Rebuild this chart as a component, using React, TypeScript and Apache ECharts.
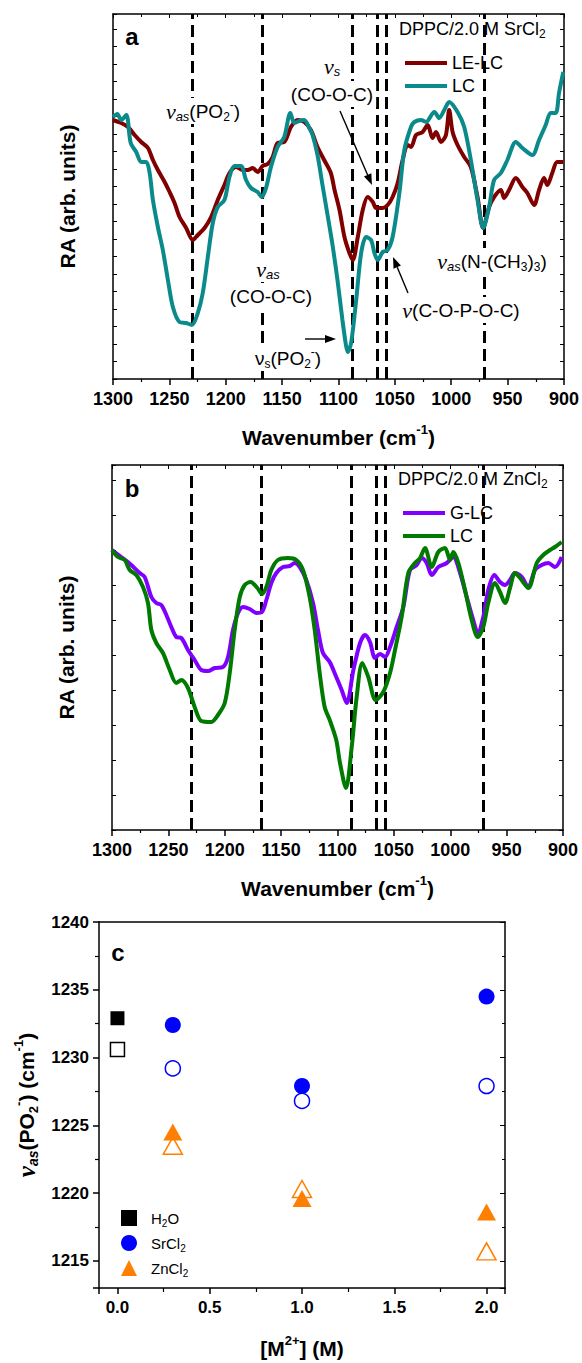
import React, { useEffect, useRef } from 'react';
import * as echarts from 'echarts';

const SANS = "'Liberation Sans', Arial, sans-serif";
const SERIF = "'Liberation Serif', 'Times New Roman', serif";

// ---------- data ----------
const WN_MIN = 900;
const WN_MAX = 1300;
const BAND_POSITIONS = [1230, 1168, 1088, 1066, 1058, 971];

// Panel a: DPPC / 2.0 M SrCl2  [wavenumber, RA (arb.)]
const SR_LELC: [number, number][] = [
  [1300.0, 2.59], [1292.7, 2.56], [1286.7, 2.52], [1280.8, 2.44], [1275.0, 2.37], [1269.0, 2.31],
  [1264.6, 2.19], [1260.2, 2.09], [1254.2, 1.97], [1249.8, 1.87], [1245.4, 1.76], [1241.0, 1.62],
  [1235.1, 1.51], [1229.2, 1.39], [1224.8, 1.44], [1218.8, 1.51], [1213.0, 1.62], [1207.1, 1.79],
  [1201.2, 1.94], [1196.7, 2.06], [1190.9, 2.12], [1185.0, 2.09], [1180.5, 2.09], [1176.1, 2.11],
  [1171.7, 2.07], [1167.3, 2.13], [1162.8, 2.15], [1158.4, 2.22], [1154.0, 2.36], [1148.1, 2.37],
  [1142.2, 2.52], [1136.3, 2.59], [1130.4, 2.57], [1124.5, 2.49], [1118.6, 2.32], [1112.7, 2.19],
  [1106.8, 2.06], [1103.5, 1.89], [1099.1, 1.69], [1094.7, 1.42], [1090.3, 1.26], [1087.3, 1.19],
  [1082.9, 1.42], [1078.5, 1.69], [1074.1, 1.82], [1069.6, 1.77], [1066.6, 1.71], [1060.8, 1.71],
  [1056.4, 1.74], [1052.0, 1.82], [1047.5, 1.96], [1043.1, 2.19], [1038.7, 2.34], [1035.7, 2.32],
  [1031.2, 2.44], [1025.4, 2.47], [1020.9, 2.54], [1016.6, 2.41], [1013.5, 2.47], [1009.1, 2.37],
  [1004.7, 2.44], [1001.8, 2.69], [998.8, 2.47], [994.4, 2.34], [988.5, 2.22], [982.6, 2.12],
  [976.7, 1.82], [971.7, 1.51], [966.4, 1.72], [962.0, 1.82], [956.0, 1.89], [953.1, 1.81],
  [948.7, 1.89], [942.7, 2.01], [936.9, 1.92], [932.5, 1.86], [926.5, 1.74], [922.1, 1.89],
  [917.7, 2.01], [914.8, 1.94], [910.4, 2.06], [906.0, 2.17], [900.6, 2.17],
];

const SR_LC: [number, number][] = [
  [1300.0, 2.62], [1296.2, 2.65], [1292.7, 2.59], [1288.2, 2.64], [1284.3, 2.36], [1279.4, 2.27],
  [1275.0, 2.17], [1270.5, 2.17], [1267.5, 2.06], [1264.6, 1.79], [1260.2, 1.52], [1255.8, 1.29],
  [1251.3, 0.99], [1246.9, 0.72], [1241.0, 0.57], [1235.1, 0.56], [1230.1, 0.54], [1224.8, 0.66],
  [1220.4, 0.86], [1215.9, 1.22], [1211.5, 1.56], [1207.1, 1.72], [1201.2, 1.79], [1196.7, 2.02],
  [1192.3, 2.13], [1186.5, 2.13], [1182.0, 1.99], [1177.6, 1.91], [1171.7, 1.87], [1168.1, 1.82],
  [1164.3, 1.91], [1159.9, 2.12], [1154.0, 2.32], [1148.1, 2.42], [1142.7, 2.66], [1139.2, 2.56],
  [1134.8, 2.58], [1130.4, 2.59], [1125.9, 2.51], [1123.0, 2.44], [1118.6, 2.24], [1114.2, 1.94],
  [1109.7, 1.64], [1105.3, 1.34], [1100.9, 0.99], [1096.5, 0.59], [1093.4, 0.34], [1091.8, 0.27],
  [1088.8, 0.36], [1084.3, 0.79], [1079.9, 1.26], [1075.5, 1.42], [1071.1, 1.39], [1068.1, 1.26],
  [1065.2, 1.19], [1060.8, 1.27], [1056.4, 1.29], [1052.0, 1.42], [1046.0, 1.86], [1041.6, 2.29],
  [1035.7, 2.52], [1032.7, 2.57], [1026.8, 2.59], [1022.4, 2.57], [1015.0, 2.67], [1010.6, 2.61],
  [1006.2, 2.69], [1001.8, 2.77], [994.4, 2.67], [988.5, 2.52], [982.6, 2.19], [976.7, 1.79],
  [971.7, 1.51], [966.4, 1.72], [962.0, 1.99], [956.0, 2.06], [950.2, 2.19], [942.7, 2.37],
  [936.9, 2.31], [928.0, 2.24], [922.1, 2.39], [916.2, 2.54], [911.8, 2.66], [907.3, 2.66],
  [904.4, 2.86], [900.6, 3.07],
];

// Panel b: DPPC / 2.0 M ZnCl2
const ZN_GLC: [number, number][] = [
  [1300.0, 2.80], [1291.8, 2.73], [1282.9, 2.65], [1275.4, 2.57], [1271.0, 2.53], [1265.1, 2.33],
  [1260.7, 2.27], [1256.3, 2.25], [1251.8, 2.15], [1247.4, 2.03], [1243.0, 1.93], [1238.5, 1.92],
  [1232.6, 1.80], [1226.7, 1.70], [1220.8, 1.60], [1214.9, 1.59], [1208.9, 1.62], [1201.6, 1.63],
  [1197.1, 1.73], [1192.7, 2.00], [1188.2, 2.17], [1183.8, 2.23], [1177.9, 2.21], [1172.0, 2.17],
  [1167.0, 2.18], [1163.1, 2.30], [1158.7, 2.47], [1154.3, 2.57], [1148.3, 2.63], [1142.4, 2.64],
  [1138.0, 2.67], [1133.5, 2.63], [1127.7, 2.50], [1121.7, 2.27], [1117.3, 2.00], [1112.9, 1.77],
  [1106.9, 1.68], [1101.1, 1.53], [1096.3, 1.40], [1091.8, 1.27], [1085.9, 1.60], [1080.0, 1.87],
  [1075.6, 1.95], [1071.2, 1.88], [1066.7, 1.72], [1062.3, 1.76], [1057.9, 1.73], [1053.4, 1.83],
  [1047.5, 2.03], [1041.6, 2.23], [1035.7, 2.60], [1029.8, 2.65], [1025.3, 2.72], [1020.9, 2.67],
  [1016.4, 2.55], [1010.6, 2.63], [1003.1, 2.67], [997.3, 2.73], [991.3, 2.57], [985.4, 2.33],
  [979.6, 2.10], [975.6, 1.97], [970.7, 2.13], [966.3, 2.40], [960.9, 2.55], [955.9, 2.48],
  [951.4, 2.45], [947.0, 2.50], [942.6, 2.57], [936.6, 2.53], [930.8, 2.43], [924.8, 2.60],
  [918.9, 2.65], [913.0, 2.67], [907.1, 2.63], [901.2, 2.73],
];

const ZN_LC: [number, number][] = [
  [1300.0, 2.80], [1294.7, 2.73], [1288.7, 2.70], [1284.3, 2.60], [1278.4, 2.55], [1272.5, 2.43],
  [1268.1, 2.27], [1265.1, 2.00], [1260.7, 1.87], [1254.8, 1.77], [1248.8, 1.60], [1243.0, 1.47],
  [1238.5, 1.50], [1232.6, 1.42], [1226.7, 1.23], [1220.8, 1.09], [1211.9, 1.08], [1206.0, 1.15],
  [1200.0, 1.27], [1195.6, 1.57], [1191.2, 2.00], [1186.7, 2.33], [1182.3, 2.45], [1177.0, 2.48],
  [1171.1, 2.42], [1167.0, 2.36], [1163.1, 2.43], [1158.7, 2.60], [1152.8, 2.70], [1143.9, 2.72],
  [1136.5, 2.70], [1130.6, 2.60], [1124.7, 2.33], [1120.2, 2.00], [1115.8, 1.57], [1111.4, 1.23],
  [1106.9, 1.10], [1101.1, 0.90], [1097.8, 0.67], [1092.5, 0.42], [1087.4, 0.83], [1083.0, 1.33],
  [1078.0, 1.67], [1072.7, 1.53], [1066.1, 1.30], [1059.4, 1.38], [1053.4, 1.57], [1049.0, 1.80],
  [1043.1, 2.13], [1037.2, 2.57], [1031.3, 2.67], [1026.8, 2.72], [1022.4, 2.82], [1016.4, 2.63],
  [1010.6, 2.78], [1004.7, 2.82], [1000.2, 2.70], [997.3, 2.78], [992.8, 2.67], [986.9, 2.40],
  [981.0, 2.10], [975.6, 1.93], [970.7, 2.03], [966.3, 2.27], [960.3, 2.47], [955.9, 2.38],
  [951.4, 2.27], [947.0, 2.42], [942.6, 2.57], [938.1, 2.52], [930.8, 2.42], [923.3, 2.67],
  [917.5, 2.75], [911.5, 2.80], [907.1, 2.83], [901.2, 2.88],
];

// Panel c: nu_as(PO2-) vs [M2+]
const H2O_CONC = [0];
const H2O_FILLED = [1232.9];
const H2O_OPEN = [1230.6];
const SALT_CONC = [0.3, 1.0, 2.0];
const SR_FILLED = [1232.4, 1227.9, 1234.5];
const SR_OPEN = [1229.2, 1226.8, 1227.9];
const ZN_FILLED = [1224.5, 1219.6, 1218.6];
const ZN_OPEN = [1223.5, 1220.3, 1215.7];

// ---------- styles ----------
const C_LELC = '#800000';
const C_LC_SR = '#0a8a8a';
const C_GLC = '#8000ff';
const C_LC_ZN = '#007a00';
const C_SR = '#0000ff';
const C_ZN = '#ff7f00';

const axisLineStyle = { color: '#000', width: 1.5 };

const titleRich = {
  t: { fontSize: 21, fontWeight: 'bold', fontFamily: SANS, color: '#000', lineHeight: 28 },
  sup: { fontSize: 13, fontWeight: 'bold', fontFamily: SANS, color: '#000', verticalAlign: 'top' },
  sub: { fontSize: 13, fontWeight: 'bold', fontFamily: SANS, color: '#000', verticalAlign: 'bottom' },
  nu: { fontSize: 25, fontWeight: 'bold', fontStyle: 'italic', fontFamily: SERIF, color: '#000', lineHeight: 28 },
  subi: { fontSize: 14, fontWeight: 'bold', fontStyle: 'italic', fontFamily: SANS, color: '#000', verticalAlign: 'bottom' },
};

const annRich = {
  t: { fontSize: 19, fontFamily: SANS, fill: '#000', lineHeight: 24 },
  nu: { fontSize: 22, fontFamily: SERIF, fontStyle: 'italic', fill: '#000', lineHeight: 24 },
  subi: { fontSize: 13, fontFamily: SANS, fontStyle: 'italic', fill: '#000', verticalAlign: 'bottom' },
  sub: { fontSize: 12, fontFamily: SANS, fill: '#000', verticalAlign: 'bottom' },
  sup: { fontSize: 12, fontFamily: SANS, fill: '#000', verticalAlign: 'top' },
};

const plainNumber = (v: number) => String(v);

function spectrumXAxes(gridIndex: number) {
  return [
    {
      type: 'value', gridIndex, position: 'bottom', min: WN_MIN, max: WN_MAX, interval: 50, inverse: true,
      axisLine: { show: true, onZero: false, lineStyle: axisLineStyle },
      axisTick: { show: true, length: 6, lineStyle: axisLineStyle },
      minorTick: { show: true, splitNumber: 2, length: 3, lineStyle: { color: '#000', width: 1.2 } },
      axisLabel: {
        fontSize: 18, fontWeight: 'bold', fontFamily: SANS, color: '#000', margin: 11,
        formatter: plainNumber,
      },
      splitLine: { show: false },
      name: '{t|Wavenumber (cm}{sup|-1}{t|)}',
      nameLocation: 'middle', nameGap: 44,
      nameTextStyle: { rich: titleRich },
    },
    {
      type: 'value', gridIndex, position: 'top', min: WN_MIN, max: WN_MAX, interval: 50, inverse: true,
      axisLine: { show: true, onZero: false, lineStyle: axisLineStyle },
      axisTick: { show: true, inside: true, length: 4, lineStyle: { color: '#000', width: 1 } },
      minorTick: { show: true, splitNumber: 2, length: 3, lineStyle: { color: '#000', width: 1 } },
      axisLabel: { show: false },
      splitLine: { show: false },
    },
  ];
}

function spectrumYAxes(gridIndex: number, interval: number) {
  const base = {
    type: 'value', gridIndex, min: 0, max: 3.65, interval,
    axisLine: { show: true, onZero: false, lineStyle: axisLineStyle },
    axisTick: { show: true, inside: true, length: 4, lineStyle: { color: '#000', width: 1 } },
    axisLabel: { show: false },
    splitLine: { show: false },
  };
  return [
    {
      ...base, position: 'left',
      name: '{t|RA (arb. units)}', nameLocation: 'middle', nameGap: 32,
      nameTextStyle: { rich: titleRich },
    },
    { ...base, position: 'right' },
  ];
}

function lineSeries(name: string, data: [number, number][], color: string, axisIndex: number, bands: boolean) {
  const s: any = {
    type: 'line', name, data, xAxisIndex: axisIndex, yAxisIndex: axisIndex,
    showSymbol: false, smooth: 0.3, silent: true, z: 3,
    lineStyle: { color, width: 4 }, itemStyle: { color },
  };
  if (bands) {
    s.markLine = {
      silent: true, symbol: 'none', z: 1, animation: false,
      label: { show: false },
      lineStyle: { type: [12, 6], color: '#000', width: 3 },
      data: BAND_POSITIONS.map((v) => ({ xAxis: v })),
    };
  }
  return s;
}

function pairs(xs: number[], ys: number[]) {
  return ys.map((y, i) => [xs[i], y]);
}

function scatter(name: string, xs: number[], ys: number[], symbol: string, size: any, color: string, open: boolean) {
  return {
    type: 'scatter', name, xAxisIndex: 4, yAxisIndex: 4, symbol, symbolSize: size,
    data: pairs(xs, ys), silent: true, z: open ? 3 : 4,
    itemStyle: open
      ? { color: '#fff', borderColor: color, borderWidth: 1.5, opacity: 1 }
      : { color, opacity: 1 },
  };
}

function label(x: number, y: number, text: string, bg = true) {
  return {
    type: 'text', x, y, z: 100,
    style: {
      text, rich: annRich, fill: '#000', font: `19px ${SANS}`,
      align: 'center', verticalAlign: 'middle',
      backgroundColor: bg ? '#fff' : undefined, padding: [1, 3],
    },
  };
}

function arrow(x1: number, y1: number, x2: number, y2: number) {
  const ang = Math.atan2(y2 - y1, x2 - x1);
  const L = 11;
  const W = 4;
  const bx = x2 - L * Math.cos(ang);
  const by = y2 - L * Math.sin(ang);
  const px = -Math.sin(ang) * W;
  const py = Math.cos(ang) * W;
  return [
    { type: 'line', z: 101, shape: { x1, y1, x2: bx, y2: by }, style: { stroke: '#000', lineWidth: 1.4 } },
    { type: 'polygon', z: 101, shape: { points: [[x2, y2], [bx + px, by + py], [bx - px, by - py]] }, style: { fill: '#000' } },
  ];
}

function panelLetter(x: number, y: number, t: string) {
  return {
    type: 'text', x, y, z: 100,
    style: { text: t, font: `bold 24px ${SANS}`, fill: '#000', align: 'center', verticalAlign: 'middle' },
  };
}

function legendTitle(x: number, y: number, salt: string) {
  return {
    type: 'text', x, y, z: 100,
    style: {
      text: `{t|DPPC/2.0 M ${salt}Cl}{sub|2}`,
      rich: {
        t: { fontSize: 18, fontFamily: SANS, fill: '#000', lineHeight: 22 },
        sub: { fontSize: 12, fontFamily: SANS, fill: '#000', verticalAlign: 'bottom' },
      },
      align: 'left', verticalAlign: 'middle', fill: '#000',
    },
  };
}

const legendRich = {
  t: { fontSize: 15, fontFamily: SANS, color: '#000', lineHeight: 20 },
  s: { fontSize: 10, fontFamily: SANS, color: '#000', verticalAlign: 'bottom' },
  sp: { width: 9 },
};

export default function App() {
  const ref = useRef<HTMLDivElement>(null);

  useEffect(() => {
    if (!ref.current) return;
    const chart = echarts.init(ref.current, undefined, { renderer: 'svg' });

    const option: any = {
      animation: false,
      backgroundColor: '#fff',
      grid: [
        { left: 113, top: 14, width: 452, height: 365 },
        { left: 112, top: 465, width: 451, height: 365 },
        { left: 99, top: 922, width: 406, height: 366 },
      ],
      xAxis: [
        ...spectrumXAxes(0),
        ...spectrumXAxes(1),
        {
          type: 'value', gridIndex: 2, position: 'bottom', min: -0.1, max: 2.1,
          axisLine: { show: true, onZero: false, lineStyle: axisLineStyle },
          axisTick: { show: true, length: 6, lineStyle: axisLineStyle },
          minorTick: { show: true, splitNumber: 2, length: 4, lineStyle: { color: '#000', width: 1.2 } },
          axisLabel: {
            fontSize: 17, fontWeight: 'bold', fontFamily: SANS, color: '#000', margin: 11,
            showMinLabel: false, showMaxLabel: false,
            formatter: (v: number) => v.toFixed(1),
          },
          splitLine: { show: false },
          name: '{t|[M}{sup|2+}{t|] (M)}', nameLocation: 'middle', nameGap: 46,
          nameTextStyle: { rich: titleRich },
        },
        {
          type: 'value', gridIndex: 2, position: 'top', min: -0.1, max: 2.1,
          axisLine: { show: true, onZero: false, lineStyle: axisLineStyle },
          axisTick: { show: false }, axisLabel: { show: false }, splitLine: { show: false },
        },
      ],
      yAxis: [
        ...spectrumYAxes(0, 0.175),
        ...spectrumYAxes(1, 0.35),
        {
          type: 'value', gridIndex: 2, position: 'left', min: 1213, max: 1240,
          axisLine: { show: true, onZero: false, lineStyle: axisLineStyle },
          axisTick: { show: true, length: 6, lineStyle: axisLineStyle },
          minorTick: { show: true, splitNumber: 2, length: 4, lineStyle: { color: '#000', width: 1.2 } },
          axisLabel: {
            fontSize: 17, fontWeight: 'bold', fontFamily: SANS, color: '#000', margin: 10,
            showMinLabel: false, formatter: plainNumber,
          },
          splitLine: { show: false },
          name: '{nu|ν}{subi|as}{t|(PO}{sub|2}{sup|-}{t|) (cm}{sup|-1}{t|)}',
          nameLocation: 'middle', nameGap: 58,
          nameTextStyle: { rich: titleRich },
        },
        {
          type: 'value', gridIndex: 2, position: 'right', min: 1213, max: 1240,
          axisLine: { show: true, onZero: false, lineStyle: axisLineStyle },
          axisTick: { show: true, inside: true, length: 5, lineStyle: { color: '#000', width: 1 } },
          minorTick: { show: true, splitNumber: 2, length: 3, lineStyle: { color: '#000', width: 1 } },
          axisLabel: { show: false }, splitLine: { show: false },
        },
      ],
      legend: [
        {
          data: ['LE-LC', 'LC (SrCl2)'], orient: 'vertical', left: 400, top: 49,
          itemWidth: 42, itemHeight: 4, itemGap: 5, icon: 'rect', selectedMode: false,
          formatter: (n: string) => (n.startsWith('LC') ? 'LC' : n),
          textStyle: { fontSize: 18, fontFamily: SANS, color: '#000', lineHeight: 18 },
        },
        {
          data: ['G-LC', 'LC (ZnCl2)'], orient: 'vertical', left: 398, top: 499,
          itemWidth: 42, itemHeight: 4, itemGap: 5, icon: 'rect', selectedMode: false,
          formatter: (n: string) => (n.startsWith('LC') ? 'LC' : n),
          textStyle: { fontSize: 18, fontFamily: SANS, color: '#000', lineHeight: 18 },
        },
        {
          data: [
            { name: 'H2O', icon: 'rect', itemStyle: { opacity: 1 } },
            { name: 'SrCl2', icon: 'circle', itemStyle: { opacity: 1 } },
            { name: 'ZnCl2', icon: 'triangle', itemStyle: { opacity: 1 } },
          ],
          orient: 'vertical', left: 116, top: 1203, itemWidth: 16, itemHeight: 16, itemGap: 5,
          selectedMode: false,
          formatter: (n: string) =>
            n === 'H2O' ? '{sp|}{t|H}{s|2}{t|O}' : n === 'SrCl2' ? '{sp|}{t|SrCl}{s|2}' : '{sp|}{t|ZnCl}{s|2}',
          textStyle: { fontSize: 15, fontFamily: SANS, color: '#000', lineHeight: 20, rich: legendRich },
        },
      ],
      series: [
        lineSeries('LE-LC', SR_LELC, C_LELC, 0, true),
        lineSeries('LC (SrCl2)', SR_LC, C_LC_SR, 0, false),
        lineSeries('G-LC', ZN_GLC, C_GLC, 2, true),
        lineSeries('LC (ZnCl2)', ZN_LC, C_LC_ZN, 2, false),
        scatter('H2O open', H2O_CONC, H2O_OPEN, 'rect', 14, '#000', true),
        scatter('H2O', H2O_CONC, H2O_FILLED, 'rect', 14, '#000', false),
        scatter('SrCl2 open', SALT_CONC, SR_OPEN, 'circle', 15, C_SR, true),
        scatter('SrCl2', SALT_CONC, SR_FILLED, 'circle', 16, C_SR, false),
        scatter('ZnCl2 open', SALT_CONC, ZN_OPEN, 'triangle', [19, 17], C_ZN, true),
        scatter('ZnCl2', SALT_CONC, ZN_FILLED, 'triangle', [19, 17], C_ZN, false),
      ],
      graphic: {
        elements: [
          panelLetter(132, 36, 'a'),
          panelLetter(132, 488, 'b'),
          panelLetter(118, 952, 'c'),
          legendTitle(399, 29, 'Sr'),
          legendTitle(398, 479, 'Zn'),
          label(203, 111, '{nu|ν}{subi|as}{t|(PO}{sub|2}{sup|-}{t|)}'),
          label(332, 66, '{nu|ν}{subi|s}'),
          label(332, 94, '{t|(CO-O-C)}'),
          label(268, 269, '{nu|ν}{subi|as}'),
          label(271, 296, '{t|(CO-O-C)}'),
          label(288, 358, '{t|ν}{sub|s}{t|(PO}{sub|2}{sup|-}{t|)}'),
          label(461, 310, '{nu|ν}{t|(C-O-P-O-C)}'),
          label(492, 261, '{nu|ν}{subi|as}{t|(N-(CH}{sub|3}{t|)}{sub|3}{t|)}'),
          ...arrow(340, 111, 372, 185),
          ...arrow(305, 339, 336, 339),
          ...arrow(408, 293, 393, 257),
        ],
      },
    };

    chart.setOption(option);
    return () => chart.dispose();
  }, []);

  return (
    <div
      ref={ref}
      style={{ position: 'absolute', left: 0, top: 0, width: 582, height: 1363, background: '#fff' }}
    />
  );
}
